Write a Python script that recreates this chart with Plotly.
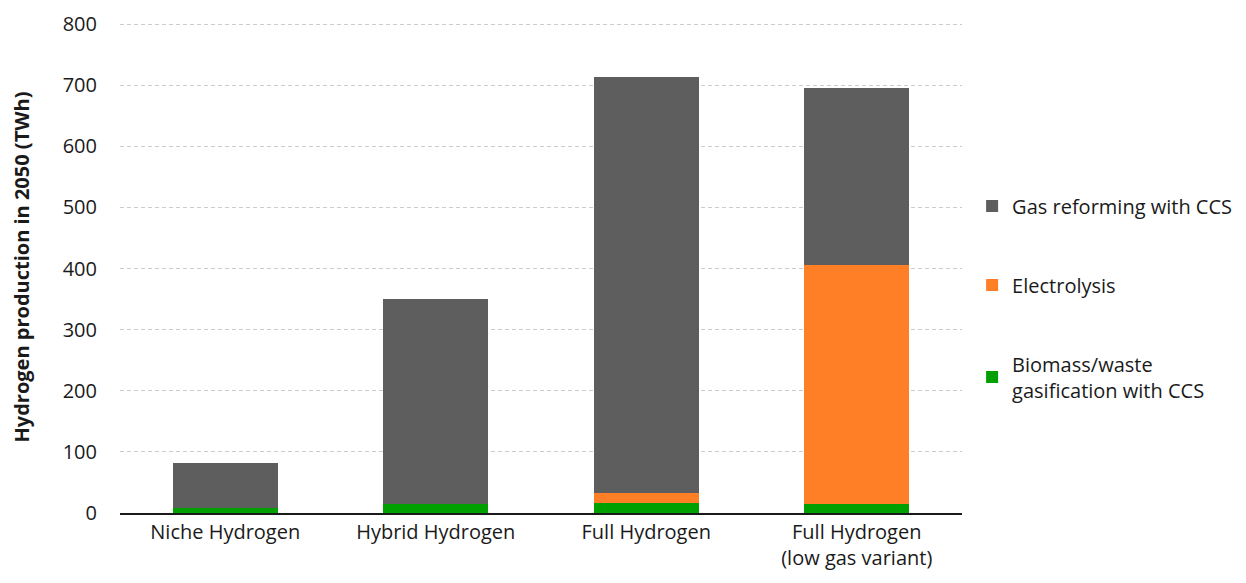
import plotly.graph_objects as go

categories = ["Niche Hydrogen", "Hybrid Hydrogen", "Full Hydrogen", "Full Hydrogen<br>(low gas variant)"]
biomass = [9, 15, 16, 15]
electrolysis = [0, 0, 17, 391]
gas_reforming = [73, 335, 680, 290]

series = [
    ("Biomass/waste<br>gasification with CCS", biomass, "#00a000", "g1", 3),
    ("Electrolysis", electrolysis, "#ff7f27", "g2", 2),
    ("Gas reforming with CCS", gas_reforming, "#5e5e5e", "g3", 1),
]

fig = go.Figure()
for name, vals, color, grp, rank in series:
    fig.add_trace(go.Bar(x=categories, y=vals, name=name, marker=dict(color=color, line=dict(width=0)),
                         legendgroup=grp, legendrank=rank))

font_family = "Open Sans"
fig.update_layout(
    barmode="stack",
    bargap=0.5,
    width=1246, height=583,
    margin=dict(l=112, r=292, t=13, b=78, autoexpand=False),
    paper_bgcolor="white", plot_bgcolor="white",
    font=dict(family=font_family, size=20, color="#1a1a1a"),
    yaxis=dict(range=[0, 805], tickvals=[0, 100, 200, 300, 400, 500, 600, 700, 800],
               showgrid=True, gridcolor="#cccccc", griddash="4px,3px", automargin=False,
               gridwidth=1, zeroline=False, ticks="outside", ticklen=18, tickcolor="rgba(0,0,0,0)",
               title=dict(text="<b>Hydrogen production in 2050 (TWh)</b>", font=dict(size=20), standoff=29)),
    xaxis=dict(showline=True, linecolor="#1a1a1a", linewidth=1.5, ticks="", automargin=False),
    legend=dict(x=1.012, y=0.437, yanchor="middle", xanchor="left", traceorder="grouped",
                tracegroupgap=50, font=dict(size=20), itemwidth=30),
    showlegend=True,
)
fig.write_html("out.html")
